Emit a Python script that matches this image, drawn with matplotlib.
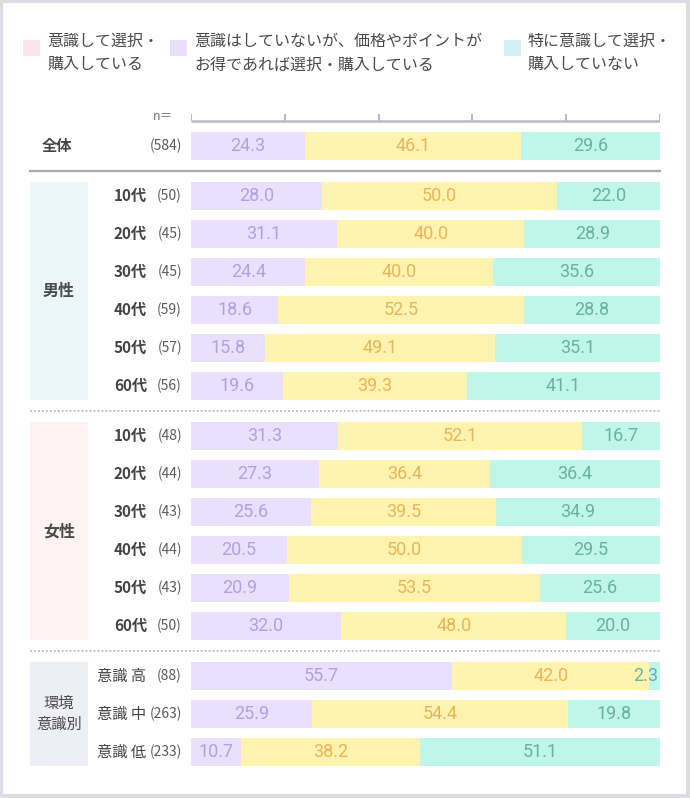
import matplotlib
matplotlib.use("Agg")
import matplotlib.pyplot as plt
from matplotlib.patches import Rectangle

plt.rcParams['font.family'] = ['Noto Sans CJK JP', 'DejaVu Sans']

# データ
legend_labels = ['意識して選択・\n購入している',
                 '意識はしていないが、価格やポイントが\nお得であれば選択・購入している',
                 '特に意識して選択・\n購入していない']
row_names = ['全体', '10代', '20代', '30代', '40代', '50代', '60代',
             '10代', '20代', '30代', '40代', '50代', '60代',
             '意識 高', '意識 中', '意識 低']
n_labels = ['(584)', '(50)', '(45)', '(45)', '(59)', '(57)', '(56)',
            '(48)', '(44)', '(43)', '(44)', '(43)', '(50)',
            '(88)', '(263)', '(233)']
group_names = ['男性', '女性', '環境\n意識別']
group_sizes = [6, 6, 3]
v1 = [24.3, 28.0, 31.1, 24.4, 18.6, 15.8, 19.6, 31.3, 27.3, 25.6, 20.5, 20.9, 32.0, 55.7, 25.9, 10.7]
v2 = [46.1, 50.0, 40.0, 40.0, 52.5, 49.1, 39.3, 52.1, 36.4, 39.5, 50.0, 53.5, 48.0, 42.0, 54.4, 38.2]
v3 = [29.6, 22.0, 28.9, 35.6, 28.8, 35.1, 41.1, 16.7, 36.4, 34.9, 29.5, 25.6, 20.0, 2.3, 19.8, 51.1]

bar_colors = ['#e9e0fe', '#fff3b0', '#c0f5eb']
text_colors = ['#b49fe4', '#eab55a', '#69b29d']
legend_colors = ['#fde4e8', '#e9dffc', '#d5eff6']
group_bg = ['#eaf8fa', '#fff2f2', '#eeeef6']

W, H = 690, 798
fig = plt.figure(figsize=(W / 100, H / 100), dpi=100)

# 背景用 (ピクセル座標)
bg = fig.add_axes([0, 0, 1, 1])
bg.set_xlim(0, W)
bg.set_ylim(H, 0)
bg.axis('off')
bg.add_patch(Rectangle((1, 1), W - 3, H - 3, fill=False, ec='#dcdce3', lw=3))

# 凡例 (2行ずつ)
leg_x = [23, 170, 504]
for i in range(3):
    bg.add_patch(Rectangle((leg_x[i], 40), 17, 16, color=legend_colors[i], lw=0))
    for j, line in enumerate(legend_labels[i].split('\n')):
        bg.text(leg_x[i] + 24, 41 + j * 24, line, fontsize=11.5, color='#4a4a4a',
                va='center', ha='left')

# 行の位置
ys = [146]
y = 196
for g in group_sizes:
    for k in range(g):
        ys.append(y + k * 38)
    y += g * 38 + 12

# 区切り線
bg.plot([30, 660], [171, 171], color='#aaaaaa', lw=1.6)
bg.plot([30, 660], [411, 411], color='#bbbbbb', lw=1.3, ls=(0, (1, 1.2)))
bg.plot([30, 660], [651, 651], color='#bbbbbb', lw=1.3, ls=(0, (1, 1.2)))

# グループ見出し
start = 1
for gi, g in enumerate(group_sizes):
    top = ys[start] - 14
    bot = ys[start + g - 1] + 14
    bg.add_patch(Rectangle((30, top), 58, bot - top, color=group_bg[gi], lw=0))
    bold = 'bold' if gi < 2 else 'normal'
    bg.text(59, (top + bot) / 2, group_names[gi], ha='center', va='center',
            fontsize=11.5 if gi < 2 else 11, color='#4a4a4a', fontweight=bold,
            linespacing=1.35)
    start += g

# 行ラベル
for i, yy in enumerate(ys):
    if i == 0:
        bg.text(42, yy, row_names[i], fontsize=11, fontweight='bold', color='#444444',
                ha='left', va='center')
    elif i >= 13:
        bg.text(97, yy, row_names[i], fontsize=11, color='#444444', ha='left', va='center')
    else:
        bg.text(114, yy, row_names[i], fontsize=11, fontweight='bold', color='#444444',
                ha='left', va='center')
    bg.text(182, yy, n_labels[i], fontsize=10, color='#5a5a5a', ha='right', va='center')
bg.text(173, 117, 'n＝', fontsize=9, color='#777777', ha='right', va='center')

# 帯グラフ
ax = fig.add_axes([191 / W, 0, 469 / W, 1])
ax.set_xlim(0, 100)
ax.set_ylim(H, 0)
ax.axis('off')
ax.patch.set_alpha(0)

ax.hlines(120.5, 0, 100, color='#babac2', lw=1.8)
ax.vlines([0, 20, 40, 60, 80, 100], 114, 121, color='#babac2', lw=1.5)

series = [v1, v2, v3]
left = [0.0] * len(ys)
for s in range(3):
    ax.barh(ys, series[s], left=left, height=28, color=bar_colors[s], lw=0)
    for i, yy in enumerate(ys):
        w = series[s][i]
        if w < 5:
            ax.text(min(left[i] + w, 100) - 0.3, yy, f'{w:.1f}', ha='right', va='center',
                    fontsize=13, color=text_colors[s], family='Roboto')
        else:
            ax.text(left[i] + w / 2, yy, f'{w:.1f}', ha='center', va='center',
                    fontsize=13, color=text_colors[s], family='Roboto')
    left = [left[i] + series[s][i] for i in range(len(ys))]

fig.savefig('out.png', dpi=100)
